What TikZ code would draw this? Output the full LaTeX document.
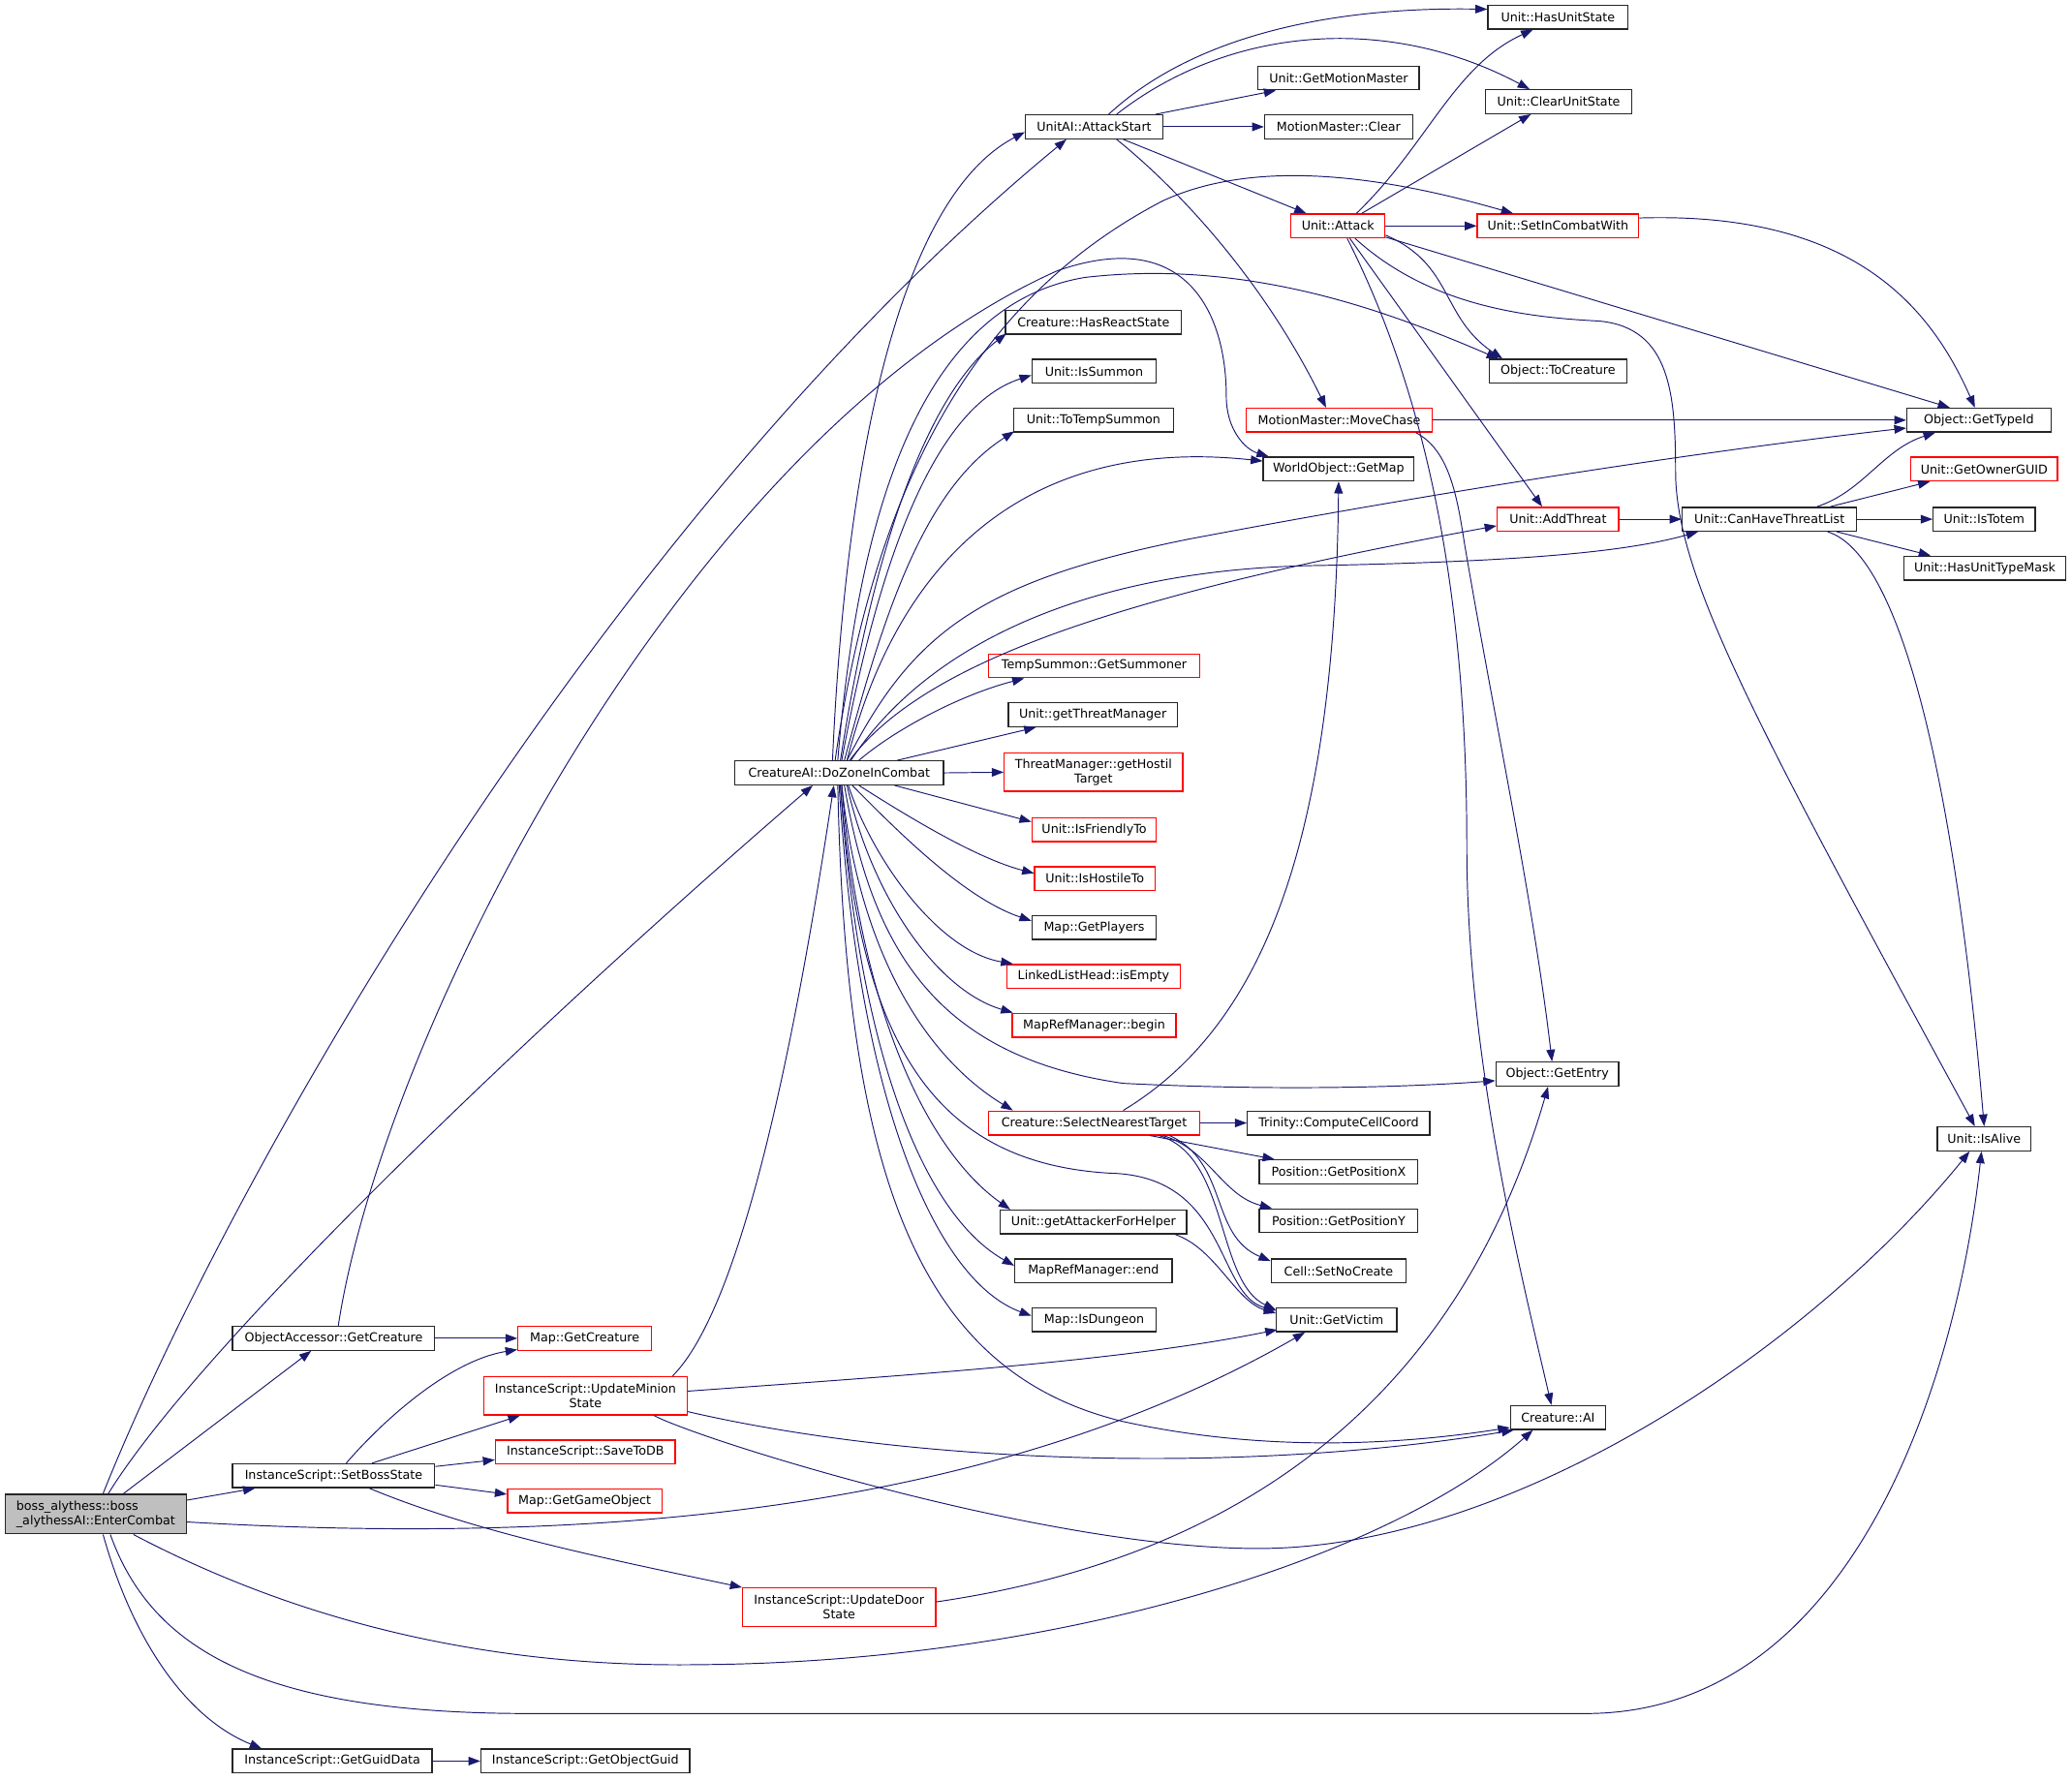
\documentclass[tikz,border=0pt]{standalone}
\usepackage{fontspec}
\setmainfont{DejaVu Sans}
\usetikzlibrary{arrows.meta,calc}
\definecolor{edgecol}{HTML}{191970}
\definecolor{redb}{HTML}{FF0000}
\definecolor{rootfill}{HTML}{BFBFBF}
\begin{document}
\begin{tikzpicture}[x=1pt,y=-1pt,
  fn/.style={draw=black!85, line width=1pt, fill=white, minimum height=18pt,
    inner xsep=3pt, inner ysep=3pt, font=\fontsize{9.3}{11}\selectfont, align=center},
  rn/.style={fn, draw=redb},
  e/.style={draw=edgecol, line width=0.7pt, -{Triangle[length=9pt,width=6.5pt]}}]
\useasboundingbox[fill=white] (0,0) rectangle (1568,1348);

% ---- nodes ----
\node[fn, fill=rootfill, align=left, minimum width=137pt, minimum height=30pt] (E) at (72.5,1146) {boss\_alythess::boss\\\_alythessAI::EnterCombat};
\node[fn, minimum width=153pt] (OAGC) at (252.5,1013) {ObjectAccessor::GetCreature};
\node[fn, minimum width=153pt] (ISSBS) at (252.5,1117) {InstanceScript::SetBossState};
\node[fn, minimum width=151pt] (ISGGD) at (251.5,1333) {InstanceScript::GetGuidData};
\node[fn, minimum width=158pt] (ISGOG) at (443,1333) {InstanceScript::GetObjectGuid};
\node[rn, minimum width=101pt] (MGC) at (442.5,1013) {Map::GetCreature};
\node[rn, minimum width=154pt, minimum height=29pt] (ISUMS) at (443,1056.5) {InstanceScript::UpdateMinion\\State};
\node[rn, minimum width=136pt] (ISSTD) at (443,1099) {InstanceScript::SaveToDB};
\node[rn, minimum width=117pt] (MGGO) at (442.5,1136) {Map::GetGameObject};
\node[rn, minimum width=146pt, minimum height=29pt] (ISUDS) at (635,1216.5) {InstanceScript::UpdateDoor\\State};
\node[fn, minimum width=158pt] (D) at (635,585) {CreatureAI::DoZoneInCombat};
\node[fn, minimum width=104pt] (A) at (828,96) {UnitAI::AttackStart};
\node[fn, minimum width=133pt] (CHRS) at (827.5,244) {Creature::HasReactState};
\node[fn, minimum width=94pt] (UIS) at (828,281) {Unit::IsSummon};
\node[fn, minimum width=121pt] (UTTS) at (827.5,318) {Unit::ToTempSummon};
\node[rn, minimum width=160pt] (TSGS) at (828,504) {TempSummon::GetSummoner};
\node[fn, minimum width=128pt] (UGTM) at (827,541) {Unit::getThreatManager};
\node[rn, minimum width=135pt, minimum height=29pt] (TMGHT) at (827.5,584.5) {ThreatManager::getHostil\\Target};
\node[rn, minimum width=94pt] (UIFT) at (828,628) {Unit::IsFriendlyTo};
\node[rn, minimum width=91pt] (UIHT) at (828.5,665) {Unit::IsHostileTo};
\node[fn, minimum width=94pt] (MGP) at (828,702) {Map::GetPlayers};
\node[rn, minimum width=131pt] (LLHIE) at (827.5,739) {LinkedListHead::isEmpty};
\node[rn, minimum width=124pt] (MRMB) at (828,776) {MapRefManager::begin};
\node[rn, minimum width=160pt] (CSNT) at (828,850) {Creature::SelectNearestTarget};
\node[fn, minimum width=141pt] (UGAFH) at (827.5,925) {Unit::getAttackerForHelper};
\node[fn, minimum width=119pt] (MRME) at (827.5,962) {MapRefManager::end};
\node[fn, minimum width=94pt] (MID) at (828,999) {Map::IsDungeon};
\node[fn, minimum width=122pt] (UGMM) at (1013,59) {Unit::GetMotionMaster};
\node[fn, minimum width=112pt] (MMC) at (1013,96) {MotionMaster::Clear};
\node[rn, minimum width=71pt] (UA) at (1012.5,171) {Unit::Attack};
\node[rn, minimum width=141pt] (MMMC) at (1013.5,318) {MotionMaster::MoveChase};
\node[fn, minimum width=114pt] (WOGM) at (1013,355) {WorldObject::GetMap};
\node[fn, minimum width=138pt] (TCCC) at (1013,850) {Trinity::ComputeCellCoord};
\node[fn, minimum width=120pt] (PGPX) at (1013,887) {Position::GetPositionX};
\node[fn, minimum width=120pt] (PGPY) at (1013,924) {Position::GetPositionY};
\node[fn, minimum width=102pt] (CSNC) at (1013,962) {Cell::SetNoCreate};
\node[fn, minimum width=91pt] (UGV) at (1011.5,999) {Unit::GetVictim};
\node[fn, minimum width=106pt] (UHUS) at (1179,13) {Unit::HasUnitState};
\node[fn, minimum width=111pt] (UCUS) at (1179.5,77) {Unit::ClearUnitState};
\node[rn, minimum width=122pt] (USICW) at (1179,171) {Unit::SetInCombatWith};
\node[fn, minimum width=104pt] (OTC) at (1179,281) {Object::ToCreature};
\node[rn, minimum width=92pt] (UAT) at (1179,393) {Unit::AddThreat};
\node[fn, minimum width=93pt] (OGE) at (1178.5,813) {Object::GetEntry};
\node[fn, minimum width=72pt] (CAI) at (1179,1073) {Creature::AI};
\node[fn, minimum width=132pt] (UCHTL) at (1339,393) {Unit::CanHaveThreatList};
\node[fn, minimum width=109pt] (OGTI) at (1497.5,318) {Object::GetTypeId};
\node[rn, minimum width=111pt] (UGOG) at (1501.5,355) {Unit::GetOwnerGUID};
\node[fn, minimum width=77pt] (UIT) at (1501.5,393) {Unit::IsTotem};
\node[fn, minimum width=122pt] (UHUTM) at (1502,430) {Unit::HasUnitTypeMask};
\node[fn, minimum width=71pt] (UIA) at (1501.5,862) {Unit::IsAlive};

% ---- edges from EnterCombat ----
\draw[e] ($(E.north)+(5.5,0)$) .. controls (170,900) and (450,400) .. ($(A.south)+(-21,0)$);
\draw[e] ($(E.north)+(9.5,0)$) .. controls (150,1020) and (400,780) .. ($(D.south)+(-20,0)$);
\draw[e] ($(E.north)+(21,0)$) -- ($(OAGC.south)+(-17,0)$);
\draw[e] ($(E.east)+(0,-10.5)$) -- ($(ISSBS.south)+(-59.5,0)$);
\draw[e] ($(E.east)+(0,6)$) .. controls (450,1170) and (750,1145) .. ($(UGV.south)+(-24,0)$);
\draw[e] ($(E.south)+(28.5,0)$) .. controls (250,1240) and (400,1262) .. (530,1260) .. controls (800,1258) and (1050,1180) .. ($(CAI.south)+(-19,0)$);
\draw[e] ($(E.south)+(11,0)$) .. controls (115,1250) and (200,1297) .. (400,1297) -- (1200,1297) .. controls (1400,1297) and (1480,1050) .. ($(UIA.south)+(-2,0)$);
\draw[e] ($(E.south)+(5.5,0)$) .. controls (100,1240) and (140,1300) .. ($(ISGGD.north)+(-53.5,0)$);

% ---- ObjectAccessor::GetCreature ----
\draw[e] (OAGC.east) -- (MGC.west);
\draw[e] ($(OAGC.north)+(3.5,0)$) .. controls (290,780) and (520,330) .. (800,205) .. controls (900,170) and (928,240) .. (928,300) .. controls (928,325) and (942,340) .. ($(WOGM.north)+(-53,0)$);

% ---- InstanceScript::SetBossState ----
\draw[e] ($(ISSBS.north)+(9.5,0)$) .. controls (290,1075) and (340,1030) .. ($(MGC.south west)+(0,-1)$);
\draw[e] ($(ISSBS.north)+(29,0)$) -- ($(ISUMS.south)+(-49.5,0)$);
\draw[e] ($(ISSBS.east)+(0,-7)$) -- ($(ISSTD.west)+(0,6)$);
\draw[e] ($(ISSBS.east)+(0,7)$) -- ($(MGGO.west)+(0,-5)$);
\draw[e] ($(ISSBS.south)+(27,0)$) .. controls (360,1160) and (460,1180) .. (ISUDS.north west);

% ---- InstanceScript::GetGuidData ----
\draw[e] (ISGGD.east) -- (ISGOG.west);

% ---- InstanceScript::UpdateMinionState ----
\draw[e] ($(ISUMS.north)+(66,0)$) .. controls (560,990) and (600,800) .. ($(D.south)+(-4,0)$);
\draw[e] ($(ISUMS.east)+(0,-3.5)$) .. controls (700,1040) and (850,1030) .. ($(UGV.south west)+(1,-2)$);
\draw[e] ($(ISUMS.east)+(0,12)$) .. controls (700,1110) and (950,1115) .. ($(CAI.south west)+(3,0)$);
\draw[e] ($(ISUMS.south)+(52,0)$) .. controls (530,1090) and (800,1175) .. (960,1172) .. controls (1150,1168) and (1370,1020) .. ($(UIA.south)+(-11,0)$);

% ---- InstanceScript::UpdateDoorState ----
\draw[e] ($(ISUDS.east)+(0,-4)$) .. controls (1000,1170) and (1120,1000) .. ($(OGE.south)+(-7,0)$);

% ---- CreatureAI::DoZoneInCombat ----
\draw[e] ($(D.north)+(-5,0)$) .. controls (640,350) and (680,150) .. ($(A.west)+(0,4)$);
\draw[e] ($(D.north)+(-3,0)$) .. controls (660,380) and (730,230) .. (880,152) .. controls (960,115) and (1070,140) .. ($(USICW.north)+(-34,0)$);
\draw[e] ($(D.north)+(-1,0)$) .. controls (650,380) and (700,230) .. (821,210) .. controls (950,195) and (1060,240) .. ($(OTC.north)+(-45,0)$);
\draw[e] ($(D.north)+(1,0)$) .. controls (660,420) and (700,300) .. ($(CHRS.south west)+(1,-1)$);
\draw[e] ($(D.north)+(2,0)$) .. controls (660,450) and (700,310) .. ($(UIS.west)+(0,3)$);
\draw[e] ($(D.north)+(4,0)$) .. controls (670,460) and (700,370) .. ($(UTTS.south west)+(1,-1)$);
\draw[e] ($(D.north)+(6,0)$) .. controls (680,420) and (780,330) .. ($(WOGM.west)+(0,-6)$);
\draw[e] ($(D.north)+(6,0)$) .. controls (690,480) and (740,440) .. (900,408) .. controls (1100,370) and (1300,340) .. ($(OGTI.west)+(0,6)$);
\draw[e] ($(D.north)+(8,0)$) .. controls (700,500) and (850,450) .. ($(UAT.west)+(0,5)$);
\draw[e] ($(D.north)+(9,0)$) .. controls (700,490) and (820,430) .. (1000,428) .. controls (1150,425) and (1230,418) .. ($(UCHTL.south)+(-54,0)$);
\draw[e] ($(D.north)+(15,0)$) .. controls (680,550) and (730,525) .. ($(TSGS.south)+(-53,0)$);
\draw[e] ($(D.north)+(44,0)$) -- ($(UGTM.south)+(-43,0)$);
\draw[e] (D.east) -- (TMGHT.west);
\draw[e] ($(D.south)+(42,0)$) -- ($(UIFT.west)+(0,-6)$);
\draw[e] ($(D.south)+(15,0)$) .. controls (690,620) and (740,650) .. ($(UIHT.west)+(0,-4)$);
\draw[e] ($(D.south)+(10,0)$) .. controls (680,630) and (730,680) .. ($(MGP.west)+(0,-5)$);
\draw[e] ($(D.south)+(7,0)$) .. controls (660,650) and (710,720) .. ($(LLHIE.north west)+(5,0)$);
\draw[e] ($(D.south)+(6,0)$) .. controls (660,680) and (710,750) .. ($(MRMB.north west)+(1,0)$);
\draw[e] ($(D.south)+(4,0)$) .. controls (660,720) and (710,800) .. (850,820) .. controls (950,825) and (1050,824) .. ($(OGE.west)+(0,5)$);
\draw[e] ($(D.south)+(2,0)$) .. controls (650,720) and (700,800) .. ($(CSNT.north west)+(19,0)$);
\draw[e] ($(D.south)+(1,0)$) .. controls (650,780) and (700,880) .. (840,888) .. controls (930,890) and (920,980) .. ($(UGV.west)+(0,-7)$);
\draw[e] ($(D.south)+(2,0)$) .. controls (650,760) and (700,870) .. ($(UGAFH.north west)+(8,0)$);
\draw[e] ($(D.south)+(1,0)$) .. controls (650,800) and (700,920) .. ($(MRME.west)+(0,-4)$);
\draw[e] ($(D.south)+(0,0)$) .. controls (650,840) and (710,970) .. ($(MID.west)+(0,-3)$);
\draw[e] ($(D.south)+(-1,0)$) .. controls (640,900) and (700,1040) .. (850,1076) .. controls (950,1098) and (1050,1095) .. ($(CAI.south west)+(0,-2)$);

% ---- Creature::SelectNearestTarget ----
\draw[e] ($(CSNT.north)+(22,0)$) .. controls (950,780) and (1010,650) .. (WOGM.south);
\draw[e] (CSNT.east) -- (TCCC.west);
\draw[e] ($(CSNT.south)+(42,0)$) -- ($(PGPX.north west)+(12,0)$);
\draw[e] ($(CSNT.south)+(52,0)$) .. controls (915,870) and (925,905) .. ($(PGPY.north west)+(10,0)$);
\draw[e] ($(CSNT.south)+(57,0)$) .. controls (930,880) and (915,935) .. ($(CSNC.north west)+(0,2)$);
\draw[e] ($(CSNT.south)+(49,0)$) .. controls (930,875) and (920,970) .. ($(UGV.north west)+(0,2)$);

% ---- Unit::getAttackerForHelper ----
\draw[e] ($(UGAFH.south)+(62,0)$) .. controls (920,945) and (935,985) .. ($(UGV.west)+(0,-5)$);

% ---- UnitAI::AttackStart ----
\draw[e] ($(A.north)+(11,0)$) .. controls (900,30) and (1000,5) .. ($(UHUS.west)+(0,-6)$);
\draw[e] ($(A.north)+(17,0)$) .. controls (930,20) and (1050,10) .. ($(UCUS.north)+(-22,0)$);
\draw[e] ($(A.north east)+(-6,0)$) -- ($(UGMM.south west)+(14,0)$);
\draw[e] (A.east) -- (MMC.west);
\draw[e] ($(A.south)+(22,0)$) -- ($(UA.north west)+(12,0)$);
\draw[e] ($(A.south)+(17,0)$) .. controls (900,150) and (960,220) .. ($(MMMC.north)+(-10,0)$);

% ---- Unit::Attack ----
\draw[e] ($(UA.north)+(14,0)$) .. controls (1080,110) and (1100,50) .. ($(UHUS.south)+(-19,0)$);
\draw[e] ($(UA.north)+(18,0)$) -- ($(UCUS.south)+(-21,0)$);
\draw[e] (UA.east) -- (USICW.west);
\draw[e] ($(UA.east)+(0,7)$) .. controls (1100,200) and (1090,240) .. ($(OTC.north)+(-42,0)$);
\draw[e] ($(UA.south east)+(0,-1)$) -- ($(OGTI.north)+(-22,0)$);
\draw[e] ($(UA.south)+(13,0)$) .. controls (1080,230) and (1150,240) .. (1210,243) .. controls (1265,248) and (1268,300) .. (1268,360) .. controls (1270,440) and (1330,550) .. ($(UIA.north)+(-7,0)$);
\draw[e] ($(UA.south)+(9,0)$) -- ($(UAT.north)+(-12,0)$);
\draw[e] ($(UA.south)+(7,0)$) .. controls (1080,300) and (1110,450) .. (1110,640) .. controls (1110,800) and (1150,960) .. ($(CAI.north)+(-5,0)$);

% ---- MotionMaster::MoveChase ----
\draw[e] (MMMC.east) -- (OGTI.west);
\draw[e] ($(MMMC.south east)+(-13,0)$) .. controls (1095,340) and (1102,370) .. (1108,410) .. controls (1130,540) and (1160,680) .. ($(OGE.north)+(-4,0)$);

% ---- Unit::AddThreat / SetInCombatWith ----
\draw[e] (UAT.east) -- (UCHTL.west);
\draw[e] ($(USICW.east)+(0,-6)$) .. controls (1400,160) and (1460,230) .. ($(OGTI.north)+(-3,0)$);

% ---- Unit::CanHaveThreatList ----
\draw[e] ($(UCHTL.north)+(36,0)$) .. controls (1410,372) and (1425,340) .. ($(OGTI.south)+(-33,0)$);
\draw[e] ($(UCHTL.north)+(46,0)$) -- ($(UGOG.south)+(-41,0)$);
\draw[e] (UCHTL.east) -- (UIT.west);
\draw[e] ($(UCHTL.south)+(51,0)$) -- ($(UHUTM.north)+(-41,0)$);
\draw[e] ($(UCHTL.south)+(44,0)$) .. controls (1440,420) and (1480,600) .. (UIA.north);
\end{tikzpicture}
\end{document}
